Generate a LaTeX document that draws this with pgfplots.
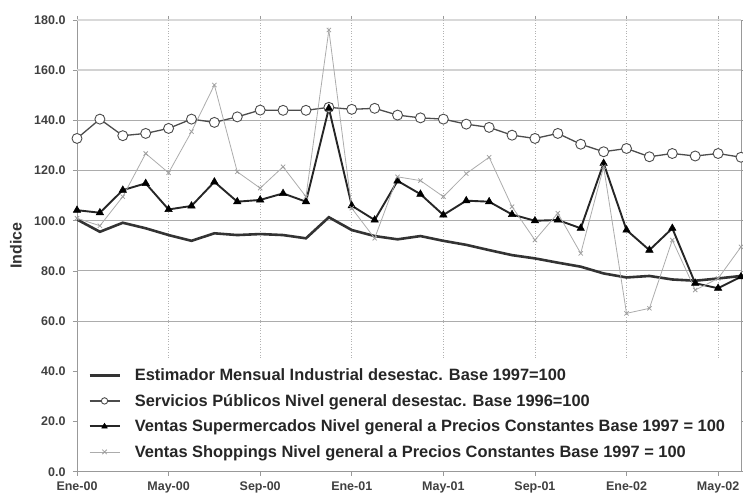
\documentclass[border=0pt]{standalone}
\usepackage{fontspec}
\setmainfont{Liberation Sans}
\usepackage{pgfplots}
\usepackage{pgfplotstable}
\pgfplotsset{compat=1.18}

% Monthly indices, Jan 2000 (i=0) to Jun 2002 (i=29)
\pgfplotstableread{
i   est    serv   super  shop
0   100.5  132.8  104.2  101.0
1   95.6   140.5  103.2  98.0
2   99.2   133.9  112.2  109.6
3   97.0   134.8  114.9  126.8
4   94.3   136.8  104.5  119.1
5   92.0   140.5  105.9  135.5
6   95.0   139.2  115.5  154.1
7   94.3   141.4  107.6  119.5
8   94.7   144.1  108.3  113.0
9   94.3   144.0  110.9  121.5
10  93.0   144.0  107.6  109.6
11  101.4  145.2  144.8  176.0
12  96.3   144.4  106.0  105.0
13  93.9   144.8  100.3  93.0
14  92.6   142.1  115.9  117.5
15  93.9   141.0  110.6  116.0
16  92.0   140.5  102.3  109.6
17  90.4   138.5  108.0  118.8
18  88.3   137.2  107.6  125.3
19  86.3   134.1  102.5  105.6
20  85.0   132.8  100.0  92.3
21  83.3   134.8  100.3  103.0
22  81.7   130.5  97.0   87.0
23  79.0   127.5  122.9  121.5
24  77.4   128.8  96.3   63.1
25  78.0   125.5  88.3   65.1
26  76.6   126.8  97.0   92.3
27  76.1   125.8  75.1   72.4
28  77.0   126.8  73.1   77.0
29  78.0   125.3  77.7   89.6
}\indices

\begin{document}
\begin{tikzpicture}
\useasboundingbox (-77pt,-25.3pt) rectangle (666pt,471.7pt);
\begin{axis}[
  at={(0pt,0pt)}, anchor=south west,
  scale only axis, width=664pt, height=451.7pt,
  xmin=0, xmax=29, ymin=0, ymax=180,
  xtick={0,4,...,28},
  xticklabels={Ene-00,May-00,Sep-00,Ene-01,May-01,Sep-01,Ene-02,May-02},
  xticklabel style={yshift=-3pt},
  ytick={0,20,...,180},
  yticklabel style={/pgf/number format/fixed, /pgf/number format/fixed zerofill,
    /pgf/number format/precision=1, /pgf/number format/assume math mode=true,
    xshift=-4pt},
  ticklabel style={font=\bfseries\fontsize{12.5}{14}\selectfont, text=black!75},
  tick align=outside, major tick length=4pt,
  tick style={gray!80, line width=0.8pt},
  axis line style={gray!80, line width=0.9pt},
  ylabel={Indice},
  ylabel style={at={(axis description cs:-0.0919,0.5)}, anchor=center,
    font=\bfseries\fontsize{16}{18}\selectfont, text=black!80},
  legend cell align=left,
  legend style={at={(rel axis cs:0.0166,0.2418)}, anchor=north west,
    draw=none, fill=none, inner sep=0pt, row sep=0pt, column sep=14pt,
    font=\bfseries\fontsize{16.4}{18}\selectfont, text=black!85,
    nodes={inner sep=0pt, minimum height=25.5pt}},
  legend image code/.code={\draw[mark repeat=2, mark phase=2, #1, mark size=3.2pt]
    plot coordinates {(0pt,0pt) (15pt,0pt) (30pt,0pt)};},
]
% grid: solid rules from 60 up, dotted month rules stopping above the legend
\pgfplotsinvokeforeach{60,80,...,140}{
  \draw[gray!65, line width=0.9pt] (axis cs:0,#1) -- (axis cs:29,#1);
}
\draw[gray!35, line width=2.2pt] (axis cs:0,160) -- (axis cs:29,160);
\draw[gray!30, line width=2.2pt] (axis cs:0,180) -- (axis cs:29,180);
\pgfplotsinvokeforeach{4,8,...,28}{
  \draw[dotted, gray!60, line width=0.7pt] (axis cs:#1,180) -- (axis cs:#1,45.3);
}

\addplot[black!80, line width=2.6pt, no markers] table[x=i, y=est] {\indices};
\addlegendentry{Estimador Mensual Industrial desestac. Base 1997=100}

\addplot[black!70, line width=1.3pt, mark=*, mark size=5pt,
  mark options={fill=white, draw=black!70, line width=0.9pt}] table[x=i, y=serv] {\indices};
\addlegendentry{Servicios Públicos Nivel general desestac. Base 1996=100}

\addplot[black!85, line width=1.9pt, mark=triangle*, mark size=4.3pt,
  mark options={fill=black, draw=black, line width=0.5pt}] table[x=i, y=super] {\indices};
\addlegendentry{Ventas Supermercados Nivel general a Precios Constantes Base 1997 = 100}

\addplot[gray!65, line width=0.8pt, mark=x, mark size=3pt,
  mark options={draw=gray!75, line width=0.8pt}] table[x=i, y=shop] {\indices};
\addlegendentry{Ventas Shoppings Nivel general a Precios Constantes Base 1997 = 100}
\end{axis}
\end{tikzpicture}
\end{document}
